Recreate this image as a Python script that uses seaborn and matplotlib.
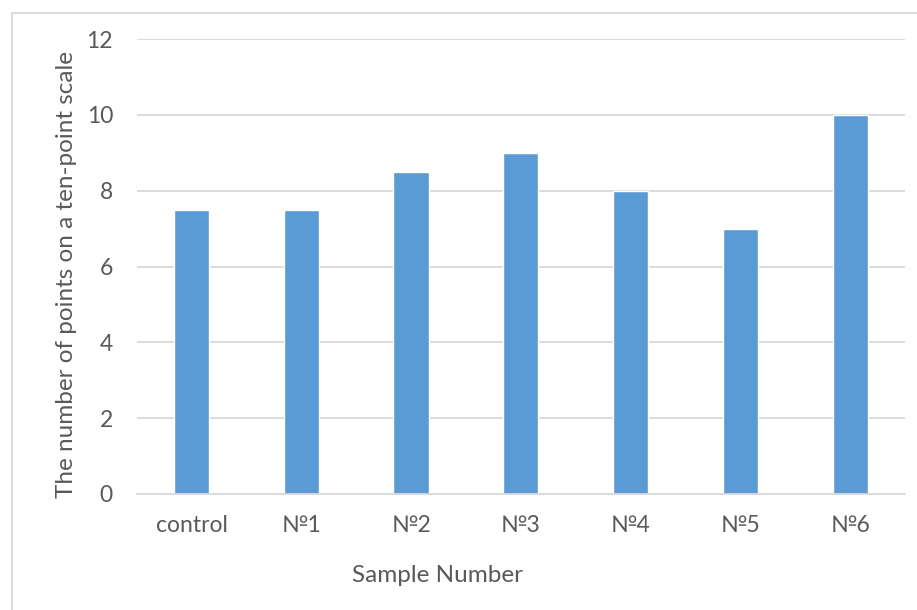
import matplotlib
matplotlib.use('Agg')
import matplotlib.pyplot as plt
import seaborn as sns
import pandas as pd
from matplotlib.patches import Rectangle

# chart data
samples = ['control', '№1', '№2', '№3', '№4', '№5', '№6']
points = [7.5, 7.5, 8.5, 9, 8, 7, 10]
y_ticks = [0, 2, 4, 6, 8, 10, 12]

df = pd.DataFrame({'sample': samples, 'points': points})

sns.set_theme(style='white')
plt.rcParams['font.family'] = ['Lato', 'DejaVu Sans']

text_grey = '#595959'
grid_grey = '#D9D9D9'

W, H = 917, 610
fig = plt.figure(figsize=(W / 100, H / 100), dpi=100)
ax = fig.add_axes([136.6 / W, 1 - 494 / H, (905 - 136.6) / W, (494 - 39) / H])

sns.barplot(data=df, x='sample', y='points', color='#5B9BD5', saturation=1,
            width=0.32, ax=ax)

ax.set_ylim(0, 12)
ax.set_yticks(y_ticks)
ax.set_xlim(-0.5, len(samples) - 0.5)
ax.yaxis.grid(True, color=grid_grey, linewidth=1.3)
ax.set_axisbelow(True)
for side in ['top', 'right', 'left']:
    ax.spines[side].set_visible(False)
ax.spines['bottom'].set_color(grid_grey)
ax.spines['bottom'].set_linewidth(1.3)

ax.tick_params(axis='both', length=0, labelsize=16.5, colors=text_grey)
ax.tick_params(axis='y', pad=17)
ax.tick_params(axis='x', pad=15)
ax.set_xlabel('')
ax.set_ylabel('')

# axis titles placed like the original chart
fig.text(437 / W, 1 - 576 / H, 'Sample Number', fontsize=17.5, color=text_grey,
         ha='center', va='center')
fig.text(67 / W, 1 - 274 / H, 'The number of points on a ten-point scale',
         fontsize=17.5, color=text_grey, ha='center', va='center', rotation=90)

# chart area border
fig.patches.append(Rectangle((12 / W, -0.1), 1.0, 1 - 13 / H + 0.1,
                             transform=fig.transFigure, fill=False,
                             edgecolor=grid_grey, linewidth=1.3))

fig.savefig('out.png', dpi=100)
